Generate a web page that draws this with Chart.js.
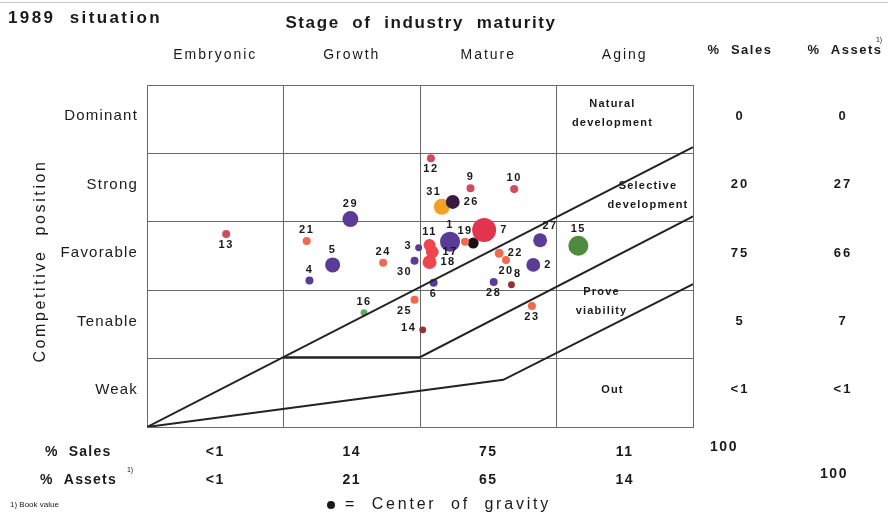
<!DOCTYPE html>
<html lang="en">
<head>
<meta charset="UTF-8">
<title>1989 situation</title>
<script src="https://cdn.jsdelivr.net/npm/chart.js"></script>
<style>
  html, body { margin: 0; padding: 0; background: #fff; }
  #wrap { width: 888px; height: 512px; }
</style>
</head>
<body>
<div id="wrap"><canvas id="matrix" width="888" height="512"></canvas></div>
<script>
// columns and rows of the matrix
const stages = ['Embryonic', 'Growth', 'Mature', 'Aging'];
const positions = ['Dominant', 'Strong', 'Favorable', 'Tenable', 'Weak'];

const salesByStage = ['<1', '14', '75', '11'];
const assetsByStage = ['<1', '21', '65', '14'];
const salesByPosition = ['0', '20', '75', '5', '<1'];
const assetsByPosition = ['0', '27', '66', '7', '<1'];

// business units 1..31
// maturity: 0..4 across the stages, position: 0..5 from Weak up to Dominant
const unitMaturity = [2.22, 2.83, 1.99, 1.19, 1.36, 2.10, 2.47, 2.67, 2.37, 2.69,
                      2.07, 2.08, 0.58, 2.02, 3.16, 1.59, 2.09, 2.07, 2.33, 2.63,
                      1.17, 2.58, 2.82, 1.73, 1.96, 2.24, 2.88, 2.54, 1.49, 1.96, 2.16];
const unitPosition = [2.71, 2.37, 2.62, 2.14, 2.37, 2.11, 2.88, 2.08, 3.49, 3.48,
                      2.66, 3.93, 2.82, 1.42, 2.65, 1.67, 2.56, 2.41, 2.71, 2.44,
                      2.72, 2.54, 1.77, 2.40, 1.86, 3.29, 2.73, 2.12, 3.04, 2.43, 3.22];
const unitVolume = [25, 12, 3, 4, 14, 4, 36, 3, 4, 4,
                    9, 4, 4, 3, 25, 3, 10, 12, 4, 4,
                    4, 5, 4, 4, 4, 12, 12, 4, 16, 4, 16];
const unitGroup = ['purple', 'purple', 'purple', 'purple', 'purple', 'purple', 'pink', 'maroon', 'rose', 'rose',
                   'red', 'rose', 'rose', 'maroon', 'green', 'lime', 'red', 'red', 'orange', 'orange',
                   'orange', 'orange', 'orange', 'orange', 'orange', 'plum', 'purple', 'purple', 'purple', 'purple', 'amber'];
const labelSide = ['t', 'r', 'l', 't', 't', 'b', 'r', 'tr', 't', 't',
                   't', 'b', 'b', 'l', 't', 't', 'r', 'r', 't', 'b',
                   't', 'r', 'b', 't', 'bl', 'r', 'tr', 'b', 't', 'bl', 'tl'];

const centerOfGravity = { x: 2.39, y: 2.69, v: 7.5 };

// strategy boundaries
const boundaryUpper = [{ x: 0, y: 0 }, { x: 4, y: 4.09 }];
const boundaryMiddle = [{ x: 1, y: 1.02 }, { x: 2, y: 1.02 }, { x: 4, y: 3.08 }];
const boundaryLower = [{ x: 0, y: 0 }, { x: 2.61, y: 0.69 }, { x: 4, y: 2.09 }];

const zoneLabels = [
  { lines: ['Natural', 'development'], x: 3.41, y: 4.58 },
  { lines: ['Selective', 'development'], x: 3.67, y: 3.38 },
  { lines: ['Prove', 'viability'], x: 3.33, y: 1.84 },
  { lines: ['Out'], x: 3.41, y: 0.54 }
];

const palette = {
  purple: '#5a3c98', pink: '#e3344f', red: '#ef454f', rose: '#d24a5b',
  orange: '#f1694d', maroon: '#963236', green: '#4d8b3e', lime: '#62ad5c',
  amber: '#f3a125', plum: '#3a1c3f'
};

const radiusOf = v => 2 * Math.sqrt(v);

const units = unitMaturity.map((m, i) => ({ x: m, y: unitPosition[i], r: radiusOf(unitVolume[i]) }));
const unitColors = unitGroup.map(g => palette[g]);

const FONT = '"Liberation Sans", Arial, sans-serif';

function put(ctx, str, x, y, size, bold, align, spacing) {
  ctx.font = (bold ? 'bold ' : '') + size + 'px ' + FONT;
  ctx.letterSpacing = (spacing || 0) + 'px';
  ctx.textAlign = align || 'center';
  ctx.fillText(str, x, y);
}

const matrixText = {
  id: 'matrixText',
  afterDraw(chart) {
    const { ctx, chartArea: a, scales: { x, y } } = chart;
    ctx.save();
    ctx.textBaseline = 'middle';

    // faint scan edge along the top
    ctx.fillStyle = '#c8c8c8';
    ctx.fillRect(0, 2, 888, 1);
    ctx.fillStyle = '#1a1a1a';

    put(ctx, '1989  situation', 8, 18, 17, true, 'left', 2.4);
    put(ctx, 'Stage  of  industry  maturity', 421, 23, 17, true, 'center', 1.6);

    stages.forEach((s, i) => {
      const cx = x.getPixelForValue(i + 0.5);
      put(ctx, s, cx, 55, 14, false, 'center', 2);
      put(ctx, salesByStage[i], cx, 452, 14, true, 'center', 1.5);
      put(ctx, assetsByStage[i], cx, 480, 14, true, 'center', 1.5);
    });

    put(ctx, '%  Sales', 740, 50, 13, true, 'center', 1.5);
    put(ctx, '%  Assets', 845, 50, 13, true, 'center', 1.5);
    put(ctx, '1)', 879, 40, 7, false, 'center', 0);

    positions.forEach((p, i) => {
      const cy = y.getPixelForValue(4.5 - i) - 3;
      put(ctx, p, 138, cy, 15, false, 'right', 1.2);
      put(ctx, salesByPosition[i], 740, cy, 13, true, 'center', 2);
      put(ctx, assetsByPosition[i], 843, cy, 13, true, 'center', 2);
    });

    ctx.save();
    ctx.translate(41, 261);
    ctx.rotate(-Math.PI / 2);
    put(ctx, 'Competitive  position', 0, 0, 16, false, 'center', 2.6);
    ctx.restore();

    put(ctx, '%  Sales', 45, 452, 14, true, 'left', 1.2);
    put(ctx, '100', 724, 447, 14, true, 'center', 1.5);
    put(ctx, '%  Assets', 40, 480, 14, true, 'left', 1.2);
    put(ctx, '1)', 130, 470, 7, false, 'center', 0);
    put(ctx, '100', 834, 474, 14, true, 'center', 1.5);

    put(ctx, '1) Book value', 10, 505, 8, false, 'left', 0);
    ctx.beginPath();
    ctx.arc(331, 505, 4, 0, Math.PI * 2);
    ctx.fill();
    put(ctx, '=  Center  of  gravity', 345, 505, 16, false, 'left', 2.8);

    // zone names
    zoneLabels.forEach(z => {
      const zx = x.getPixelForValue(z.x);
      const zy = y.getPixelForValue(z.y);
      const off = (z.lines.length - 1) * 9.5;
      z.lines.forEach((l, k) => put(ctx, l, zx, zy - off + k * 19, 11, true, 'center', 1.2));
    });

    // unit numbers
    units.forEach((u, i) => {
      const px = x.getPixelForValue(u.x);
      const py = y.getPixelForValue(u.y);
      const r = u.r;
      let tx = px, ty = py, al = 'center';
      switch (labelSide[i]) {
        case 't': ty = py - r - 7; break;
        case 'b': ty = py + r + 7; break;
        case 'l': tx = px - r - 3; al = 'right'; ty = py - 2; break;
        case 'r': tx = px + r + 4; al = 'left'; break;
        case 'tr': tx = px + r + 3; ty = py - r - 7; break;
        case 'tl': tx = px - r; ty = py - r - 7; break;
        case 'bl': tx = px - r - 6; ty = py + r + 7; break;
      }
      put(ctx, String(i + 1), tx, ty, 11, true, al, 1.5);
    });
    ctx.restore();
  }
};

const boundaryStyle = {
  type: 'line', showLine: true, pointRadius: 0, borderColor: '#222',
  borderWidth: 2, tension: 0, fill: false
};

new Chart(document.getElementById('matrix'), {
  type: 'bubble',
  data: {
    datasets: [
      { ...boundaryStyle, data: boundaryUpper },
      { ...boundaryStyle, data: boundaryMiddle },
      { ...boundaryStyle, data: boundaryLower },
      {
        // drawn from the last unit to the first so the large ones sit on top
        data: units.slice().reverse(),
        backgroundColor: unitColors.slice().reverse(),
        borderWidth: 0
      },
      {
        data: [{ x: centerOfGravity.x, y: centerOfGravity.y, r: radiusOf(centerOfGravity.v) }],
        backgroundColor: '#141414',
        borderWidth: 0
      }
    ]
  },
  options: {
    responsive: false,
    animation: false,
    events: [],
    layout: { padding: { left: 147, right: 195, top: 85, bottom: 85 } },
    plugins: { legend: { display: false }, tooltip: { enabled: false } },
    scales: {
      x: {
        type: 'linear', min: 0, max: 4,
        ticks: { display: false, stepSize: 1 },
        grid: { color: '#6a6a6a', lineWidth: 1, drawTicks: false },
        border: { display: true, color: '#6a6a6a' }
      },
      y: {
        type: 'linear', min: 0, max: 5,
        ticks: { display: false, stepSize: 1 },
        grid: { color: '#6a6a6a', lineWidth: 1, drawTicks: false },
        border: { display: true, color: '#6a6a6a' }
      }
    }
  },
  plugins: [matrixText]
});
</script>
</body>
</html>
